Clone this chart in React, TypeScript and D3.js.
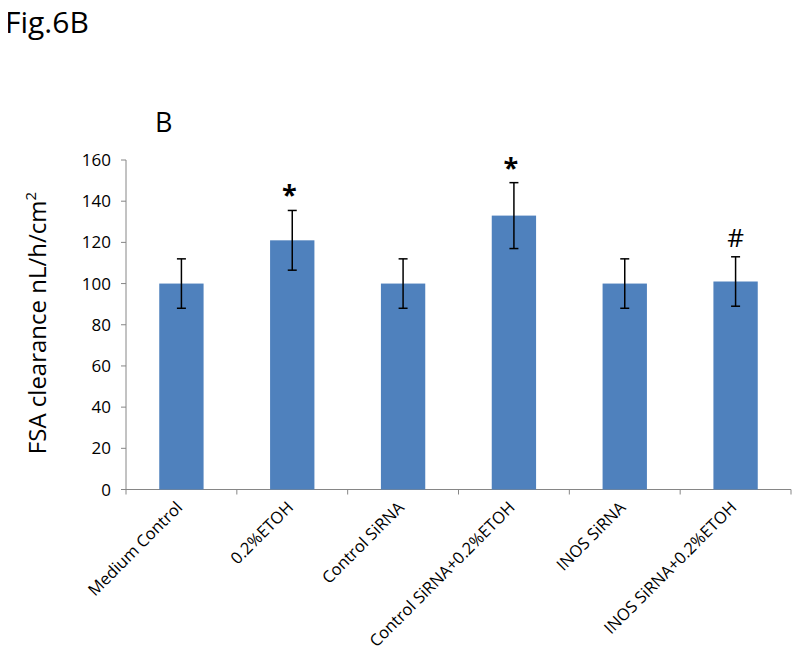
import React, { useEffect, useRef } from 'react';
import * as d3 from 'd3';

const categories = [
  'Medium Control',
  '0.2%ETOH',
  'Control SiRNA',
  'Control SiRNA+0.2%ETOH',
  'INOS SiRNA',
  'INOS SiRNA+0.2%ETOH',
];
const means = [100, 121, 100, 133, 100, 101];
const errors = [12, 14.5, 12, 16, 12, 12];
const marks = ['', '*', '', '*', '', '#'];
const yTicks = [0, 20, 40, 60, 80, 100, 120, 140, 160];

export default function App() {
  const svgRef = useRef<SVGSVGElement>(null);

  useEffect(() => {
    if (!svgRef.current) return;
    const width = 800;
    const height = 661;
    const font = '"Open Sans", "Liberation Sans", sans-serif';

    const svg = d3.select(svgRef.current);
    svg.selectAll('*').remove();
    svg.attr('width', width).attr('height', height).style('background', '#fff');

    const x = d3.scaleBand<string>()
      .domain(categories)
      .range([126, 791])
      .paddingInner(0.6)
      .paddingOuter(0.3);
    const y = d3.scaleLinear().domain([0, 160]).range([489.5, 160]);

    // figure title + panel letter
    svg.append('text')
      .attr('x', 5).attr('y', 33)
      .attr('font-family', font).attr('font-size', 30)
      .text('Fig.6B');
    svg.append('text')
      .attr('x', 155).attr('y', 132)
      .attr('font-family', font).attr('font-size', 27)
      .text('B');

    // y axis
    svg.append('line')
      .attr('x1', 126).attr('x2', 126)
      .attr('y1', y(0)).attr('y2', y(160))
      .attr('stroke', '#868686');
    yTicks.forEach(t => {
      svg.append('line')
        .attr('x1', 121).attr('x2', 126)
        .attr('y1', y(t)).attr('y2', y(t))
        .attr('stroke', '#868686');
      svg.append('text')
        .attr('x', 111).attr('y', y(t) + 6)
        .attr('text-anchor', 'end')
        .attr('font-family', font).attr('font-size', 17)
        .attr('fill', '#000')
        .text(t);
    });

    // x axis
    svg.append('line')
      .attr('x1', 126).attr('x2', 791)
      .attr('y1', y(0)).attr('y2', y(0))
      .attr('stroke', '#868686');
    const step = x.step();
    d3.range(categories.length + 1).forEach(i => {
      const px = 126 + i * step;
      svg.append('line')
        .attr('x1', px).attr('x2', px)
        .attr('y1', y(0)).attr('y2', y(0) + 5)
        .attr('stroke', '#868686');
    });

    // y label
    const yl = svg.append('text')
      .attr('transform', `translate(46, 323) rotate(-90)`)
      .attr('text-anchor', 'middle')
      .attr('font-family', font).attr('font-size', 24);
    yl.append('tspan').text('FSA clearance nL/h/cm');
    yl.append('tspan').attr('dy', -10).attr('font-size', 15).text('2');

    // bars
    categories.forEach((c, i) => {
      const bx = x(c)!;
      const cx = bx + x.bandwidth() / 2;
      svg.append('rect')
        .attr('x', bx).attr('y', y(means[i]))
        .attr('width', x.bandwidth())
        .attr('height', y(0) - y(means[i]))
        .attr('fill', '#4F81BD');

      const hi = y(means[i] + errors[i]);
      const lo = y(means[i] - errors[i]);
      const g = svg.append('g').attr('stroke', '#000').attr('stroke-width', 1.5);
      g.append('line').attr('x1', cx).attr('x2', cx).attr('y1', hi).attr('y2', lo);
      g.append('line').attr('x1', cx - 4.5).attr('x2', cx + 4.5).attr('y1', hi).attr('y2', hi);
      g.append('line').attr('x1', cx - 4.5).attr('x2', cx + 4.5).attr('y1', lo).attr('y2', lo);

      if (marks[i] === '*') {
        svg.append('text')
          .attr('x', cx - 3)
          .attr('y', hi - 6)
          .attr('text-anchor', 'middle')
          .attr('font-family', font)
          .attr('font-weight', 'bold')
          .attr('font-size', 27)
          .text('*');
      } else if (marks[i]) {
        svg.append('text')
          .attr('x', cx)
          .attr('y', hi - 10)
          .attr('text-anchor', 'middle')
          .attr('font-family', font)
          .attr('font-size', 26)
          .text(marks[i]);
      }

      svg.append('text')
        .attr('transform', `translate(${cx + 2}, ${y(0) + 19}) rotate(-45)`)
        .attr('text-anchor', 'end')
        .attr('font-family', font).attr('font-size', 16.5)
        .text(c);
    });
  }, []);

  return (
    <div style={{ margin: '-8px' }}>
      <svg ref={svgRef}></svg>
    </div>
  );
}
